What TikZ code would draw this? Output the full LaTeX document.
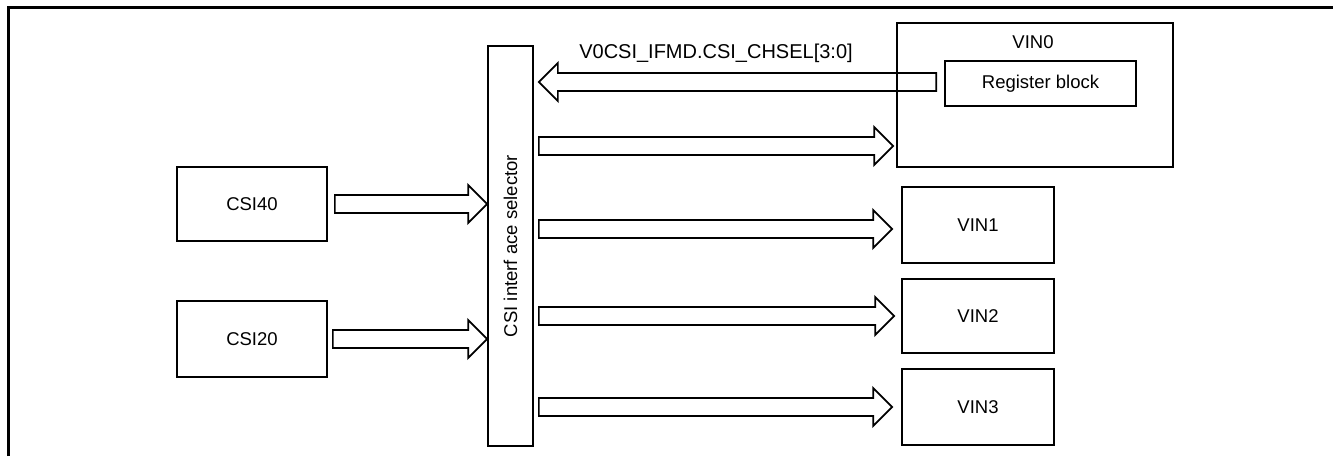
\documentclass[tikz,border=0pt]{standalone}
\usepackage{fontspec}
\setmainfont{Liberation Sans}
\usetikzlibrary{calc}
\begin{document}
\begin{tikzpicture}[x=0.5pt,y=-0.5pt,
  box/.style={draw,line width=0.85pt,inner sep=0pt,align=center,font=\fontsize{9.25}{11}\selectfont},
  lbl/.style={inner sep=0pt,font=\fontsize{9.25}{11}\selectfont},
  fat/.style={draw,line width=0.85pt,line join=miter,
    to path={let \p1=(\tikztostart), \p2=(\tikztotarget), \n1={sign(\x2-\x1)} in
      (\x1,\y1+4.5pt) -- (\x2-\n1*9.5pt,\y1+4.5pt) -- (\x2-\n1*9.5pt,\y1+9.5pt) -- (\x2,\y1)
      -- (\x2-\n1*9.5pt,\y1-9.5pt) -- (\x2-\n1*9.5pt,\y1-4.5pt) -- (\x1,\y1-4.5pt) -- cycle}}]
\useasboundingbox (0,0) rectangle (1333,456);
% outer frame (top and left edges)
\coordinate (fc) at (8,7);
\coordinate (fr) at (1333,7);
\coordinate (fb) at (8,456);
\draw[line width=1.5pt] (fb) -- (fc) -- (fr);
% blocks
\node[box,minimum width=75pt,minimum height=37pt] (csi40) at (252,204) {CSI40};
\node[box,minimum width=75pt,minimum height=38pt] (csi20) at (252,339) {CSI20};
\node[box,minimum width=22.5pt,minimum height=200pt] (sel) at (510.5,246) {};
\node[lbl,rotate=90] (seltxt) at (sel.center) {CSI interf ace selector};
\node[box,minimum width=138pt,minimum height=72pt] (vin0) at (1035,95) {};
\node[lbl] (vin0txt) at (1033,42) {VIN0};
\node[box,minimum width=95.5pt,minimum height=22.5pt] (reg) at (1040.5,83.5) {Register block};
\node[box,minimum width=76pt,minimum height=38pt] (vin1) at (978,225) {VIN1};
\node[box,minimum width=76pt,minimum height=37pt] (vin2) at (978,316) {VIN2};
\node[box,minimum width=76pt,minimum height=38pt] (vin3) at (978,407) {VIN3};
\node[inner sep=0pt,font=\fontsize{10}{12}\selectfont] (chsel) at (716,53) {V0CSI\_IFMD.CSI\_CHSEL[3:0]};
% arrow levels
\coordinate (yr) at (0,82);
\coordinate (y0) at (0,146);
\coordinate (y1) at (0,229);
\coordinate (y2) at (0,316);
\coordinate (y3) at (0,407);
% arrows
\draw[fat] ([xshift=3.5pt]csi40.east) to (sel.west |- csi40.east);
\draw[fat] ([xshift=2.5pt]csi20.east) to (sel.west |- csi20.east);
\draw[fat] ([xshift=-4pt]reg.west |- yr) to ([xshift=2.5pt]sel.east |- yr);
\draw[fat] ([xshift=2.5pt]sel.east |- y0) to ([xshift=-1.5pt]vin0.west |- y0);
\draw[fat] ([xshift=2.5pt]sel.east |- y1) to ([xshift=-4.5pt]vin1.west |- y1);
\draw[fat] ([xshift=2.5pt]sel.east |- y2) to ([xshift=-3.5pt]vin2.west |- y2);
\draw[fat] ([xshift=2.5pt]sel.east |- y3) to ([xshift=-4.5pt]vin3.west |- y3);
\end{tikzpicture}
\end{document}
